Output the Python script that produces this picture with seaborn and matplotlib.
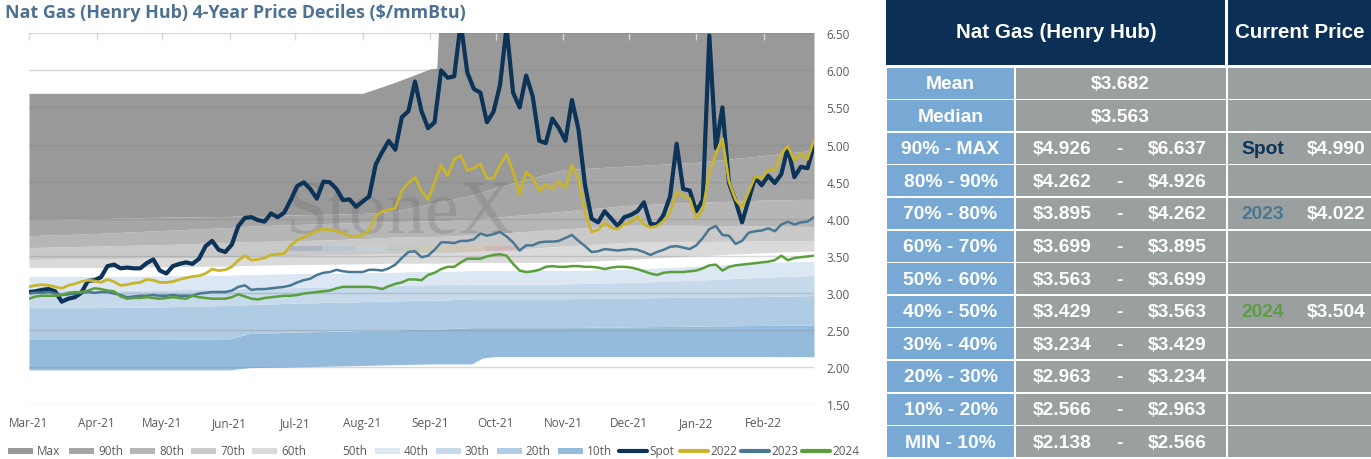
import numpy as np
import pandas as pd
import matplotlib
matplotlib.use("Agg")
import matplotlib.pyplot as plt
import matplotlib.dates as mdates
from matplotlib.patches import Rectangle
from matplotlib.lines import Line2D
import seaborn as sns

# ---------------- data ----------------
line_start = "2021-03-01"
line_step = "3D"
spot = [3.01,3.02,3.04,3.05,3.02,2.88,2.92,2.94,3.00,3.16,
        3.17,3.21,3.36,3.38,3.33,3.34,3.33,3.33,3.40,3.45,
        3.30,3.26,3.36,3.39,3.41,3.39,3.46,3.63,3.70,3.58,
        3.55,3.65,3.90,4.01,4.02,3.98,3.96,4.07,4.02,4.08,
        4.25,4.44,4.49,4.40,4.27,4.50,4.49,4.40,4.25,4.26,
        4.16,4.23,4.30,4.73,4.90,5.05,4.93,5.37,5.45,5.85,
        5.45,5.22,5.30,6.00,5.90,5.92,6.64,5.97,5.75,5.70,
        5.30,5.44,5.80,6.58,5.70,5.50,5.93,5.65,5.05,5.02,
        5.35,5.22,5.05,5.60,5.20,4.45,4.00,3.95,4.10,4.00,
        3.90,4.02,4.05,4.10,4.22,3.93,3.92,4.05,4.30,5.01,
        4.40,4.38,4.10,4.25,6.47,4.95,5.50,4.48,4.24,3.95,
        4.25,4.55,4.45,4.58,4.48,4.60,4.96,4.56,4.70,4.68,
        4.99]
y2022 = [3.08,3.10,3.11,3.10,3.08,3.06,3.10,3.12,3.15,3.17,
         3.16,3.14,3.18,3.15,3.10,3.11,3.13,3.14,3.18,3.17,
         3.14,3.14,3.15,3.18,3.20,3.22,3.23,3.26,3.32,3.30,
         3.31,3.35,3.44,3.50,3.44,3.45,3.47,3.51,3.52,3.53,
         3.64,3.71,3.75,3.79,3.83,3.86,3.85,3.83,3.81,3.76,
         3.76,3.78,3.84,4.03,4.10,4.12,4.14,4.38,4.48,4.56,
         4.37,4.26,4.49,4.72,4.58,4.80,4.85,4.65,4.68,4.74,
         4.54,4.55,4.72,4.87,4.63,4.33,4.63,4.55,4.37,4.46,
         4.40,4.50,4.42,4.72,4.54,4.08,3.82,3.85,3.94,3.88,
         3.86,3.93,3.95,4.03,3.92,3.88,3.90,3.97,4.08,4.36,
         4.31,4.27,4.00,4.12,4.62,4.88,5.08,4.50,4.26,4.15,
         4.36,4.57,4.54,4.66,4.65,4.88,4.98,4.78,4.88,4.80,
         5.06]
y2023 = [2.99,3.00,3.00,3.01,2.99,2.97,2.98,2.99,3.00,3.01,
         3.00,3.01,3.01,2.99,2.97,2.94,2.95,2.96,2.96,2.97,
         2.96,2.96,2.97,2.96,2.96,2.96,2.99,3.00,3.01,3.01,
         3.01,3.03,3.08,3.10,3.04,3.05,3.05,3.06,3.07,3.08,
         3.10,3.14,3.17,3.19,3.24,3.27,3.28,3.31,3.29,3.28,
         3.28,3.28,3.31,3.31,3.30,3.33,3.38,3.47,3.55,3.56,
         3.48,3.50,3.58,3.68,3.68,3.67,3.70,3.70,3.72,3.80,
         3.77,3.79,3.82,3.76,3.68,3.57,3.64,3.64,3.68,3.69,
         3.69,3.70,3.74,3.78,3.70,3.63,3.55,3.56,3.59,3.58,
         3.57,3.58,3.59,3.58,3.55,3.51,3.55,3.58,3.62,3.63,
         3.61,3.59,3.64,3.74,3.86,3.90,3.78,3.77,3.66,3.70,
         3.81,3.83,3.84,3.87,3.83,3.92,3.96,3.92,3.95,3.96,
         4.02]
y2024 = [2.92,2.95,2.96,2.96,2.96,2.97,3.00,3.01,3.01,3.03,
         3.06,3.05,3.03,3.02,2.95,2.92,2.93,2.93,2.94,2.93,
         2.92,2.93,2.94,2.93,2.92,2.96,2.94,2.93,2.92,2.92,
         2.92,2.94,2.98,2.95,2.92,2.91,2.93,2.94,2.95,2.96,
         2.96,2.97,2.99,3.00,3.01,3.02,3.03,3.06,3.08,3.08,
         3.08,3.08,3.08,3.07,3.05,3.09,3.12,3.14,3.18,3.18,
         3.17,3.24,3.27,3.32,3.35,3.35,3.41,3.46,3.46,3.46,
         3.49,3.51,3.52,3.50,3.39,3.30,3.28,3.29,3.31,3.35,
         3.36,3.35,3.35,3.36,3.36,3.35,3.35,3.34,3.32,3.34,
         3.35,3.35,3.34,3.32,3.29,3.26,3.24,3.27,3.28,3.28,
         3.28,3.29,3.30,3.33,3.37,3.38,3.30,3.35,3.37,3.38,
         3.39,3.40,3.41,3.42,3.44,3.50,3.44,3.47,3.48,3.49,
         3.50]
series_names = ["Spot", "2022", "2023", "2024"]

band_dates = ["2021-03-01","2021-04-01","2021-05-01","2021-06-01","2021-06-10",
              "2021-07-01","2021-08-01","2021-08-15","2021-09-01","2021-09-04",
              "2021-09-05","2021-09-20","2021-09-25","2021-10-01","2021-11-01",
              "2021-12-01","2022-01-01","2022-02-01","2022-02-24"]
d_min = [1.96,1.96,1.96,1.96,1.99,2.00,2.02,2.03,2.04,2.04,2.04,2.04,2.12,2.14,2.14,2.14,2.14,2.14,2.138]
d_p10 = [2.37,2.37,2.37,2.38,2.45,2.47,2.49,2.50,2.51,2.51,2.51,2.53,2.53,2.53,2.53,2.54,2.55,2.56,2.566]
d_p20 = [2.80,2.80,2.81,2.83,2.84,2.86,2.88,2.89,2.90,2.90,2.90,2.92,2.92,2.92,2.92,2.93,2.94,2.95,2.963]
d_p30 = [3.03,3.03,3.04,3.05,3.06,3.07,3.09,3.10,3.11,3.11,3.11,3.12,3.12,3.12,3.12,3.14,3.17,3.21,3.234]
d_p40 = [3.22,3.22,3.23,3.24,3.25,3.26,3.27,3.28,3.29,3.29,3.29,3.30,3.30,3.30,3.30,3.32,3.36,3.41,3.429]
d_p50 = [3.34,3.34,3.35,3.36,3.37,3.38,3.39,3.40,3.40,3.40,3.40,3.41,3.41,3.41,3.41,3.45,3.50,3.54,3.563]
d_p60 = [3.45,3.46,3.47,3.48,3.49,3.50,3.52,3.53,3.54,3.54,3.54,3.55,3.56,3.57,3.63,3.68,3.69,3.70,3.699]
d_p70 = [3.61,3.63,3.65,3.68,3.69,3.70,3.73,3.75,3.76,3.76,3.76,3.78,3.79,3.80,3.86,3.91,3.91,3.90,3.895]
d_p80 = [3.77,3.80,3.84,3.88,3.90,3.92,3.95,3.96,3.97,3.97,3.97,3.99,4.00,4.02,4.10,4.18,4.22,4.25,4.262]
d_p90 = [3.99,4.00,4.02,4.03,4.04,4.05,4.07,4.10,4.20,4.22,4.22,4.32,4.36,4.42,4.66,4.71,4.76,4.85,4.926]
d_max = [5.69,5.69,5.69,5.69,5.69,5.69,5.69,5.83,6.02,6.03,6.637,6.637,6.637,6.637,6.637,6.637,6.637,6.637,6.637]
band_names = ["10th", "20th", "30th", "40th", "50th", "60th", "70th", "80th", "90th", "Max"]

y_ticks = [1.5, 2.0, 2.5, 3.0, 3.5, 4.0, 4.5, 5.0, 5.5, 6.0, 6.5]

title = "Nat Gas (Henry Hub) 4-Year Price Deciles ($/mmBtu)"

tbl_header = ["Nat Gas (Henry Hub)", "Current Price"]
stat_labels = ["Mean", "Median"]
stat_values = [3.682, 3.563]
range_labels = ["90% - MAX", "80% - 90%", "70% - 80%", "60% - 70%", "50% - 60%",
                "40% - 50%", "30% - 40%", "20% - 30%", "10% - 20%", "MIN - 10%"]
range_low = [4.926, 4.262, 3.895, 3.699, 3.563, 3.429, 3.234, 2.963, 2.566, 2.138]
range_high = [6.637, 4.926, 4.262, 3.895, 3.699, 3.563, 3.429, 3.234, 2.963, 2.566]
current_row = ["90% - MAX", "70% - 80%", "40% - 50%"]
current_name = ["Spot", "2023", "2024"]
current_value = [4.990, 4.022, 3.504]

# ---------------- styles ----------------
band_colors = ["#95bbdc", "#b0cce5", "#c6daec", "#dbe7f3", "#ffffff",
               "#dadada", "#c9c9c9", "#b6b6b6", "#a6a6a6", "#999999"]
line_colors = ["#0c3358", "#c9b52c", "#4a7793", "#5b9f3c"]
line_widths = [3.0, 2.0, 1.8, 1.8]
navy = "#0c2f55"
lbl_blue = "#77a9d4"
cell_gray = "#9aa09f"
txt_gray = "#595959"

sns.set_theme(style="white")
plt.rcParams["font.family"] = ["Open Sans", "DejaVu Sans"]

W, H = 1371, 460
fig = plt.figure(figsize=(W / 100, H / 100), dpi=100)
fig.patch.set_facecolor("white")

ax_left, ax_right, ax_top, ax_bot = 29, 814, 34.3, 405
ax = fig.add_axes([ax_left / W, (H - ax_bot) / H, (ax_right - ax_left) / W, (ax_bot - ax_top) / H])

bd = pd.to_datetime(band_dates)
bounds = [d_min, d_p10, d_p20, d_p30, d_p40, d_p50, d_p60, d_p70, d_p80, d_p90, d_max]
for k in range(10):
    ax.fill_between(bd, bounds[k], bounds[k + 1], color=band_colors[k], lw=0, zorder=1)

ld = pd.date_range(line_start, periods=len(spot), freq=line_step)
df = pd.DataFrame({"date": ld, "Spot": spot, "2022": y2022, "2023": y2023, "2024": y2024})
for i, name in enumerate(series_names):
    sns.lineplot(data=df, x="date", y=name, ax=ax, color=line_colors[i], lw=line_widths[i],
                 zorder=2 + 0.1 * i, legend=False, solid_joinstyle="round")

# watermark
ax.text(0.473, 0.515, "StoneX", transform=ax.transAxes, ha="center", va="center",
        fontsize=55, family="Liberation Serif", color="#6a6a6a", alpha=0.26, zorder=1.6)
strip_cols = ["#8f9db4", "#aebfd2", "#c6d2dc", "#b6c8b6", "#d6cea4", "#d9c59c", "#d3a3a3"]
for j, c in enumerate(strip_cols):
    ax.add_patch(Rectangle((0.332 + j * 0.0415, 0.412), 0.0415, 0.014, transform=ax.transAxes,
                           color=c, alpha=0.45, lw=0, zorder=1.6))

ax.set_xlim(pd.Timestamp(line_start), pd.Timestamp(band_dates[-1]))
ax.set_ylim(y_ticks[0], y_ticks[-1])
ax.set_yticks(y_ticks)
ax.yaxis.set_major_formatter(matplotlib.ticker.FormatStrFormatter("%.2f"))
ax.yaxis.tick_right()
ax.tick_params(axis="y", length=0, pad=9, labelsize=8.5, labelcolor=txt_gray)
ax.xaxis.set_major_locator(mdates.MonthLocator())
ax.xaxis.set_major_formatter(mdates.DateFormatter("%b-%y"))
ax.tick_params(axis="x", which="major", top=True, bottom=False, labelbottom=True, labeltop=False,
               direction="in", length=5, width=1, color="#d9d9d9", pad=9,
               labelsize=8.5, labelcolor=txt_gray)
ax.set_xlabel("")
ax.set_ylabel("")
for s in ax.spines.values():
    s.set_visible(False)
ax.grid(axis="y", color="#808080", alpha=0.3, lw=1)
ax.grid(axis="x", visible=False)
ax.set_axisbelow("line")
ax.set_facecolor("white")

fig.text(5 / W, (H - 13) / H, title, ha="left", va="center", fontsize=12.9,
         fontweight="bold", color="#4d7192")

# legend (manual, evenly spaced like the original)
leg_names = band_names[::-1] + series_names
leg_y = 452
for k, name in enumerate(leg_names):
    sx = 8 + 61.1 * k
    if k < 10:
        col = band_colors[::-1][k]
        fig.patches.append(Rectangle((sx / W, (H - leg_y - 3) / H), 25 / W, 6 / H,
                                     transform=fig.transFigure, color=col, lw=0))
        tx = sx + 29
    else:
        j = k - 10
        fig.lines.append(Line2D([sx / W, (sx + 28) / W], [(H - leg_y) / H] * 2,
                                transform=fig.transFigure, color=line_colors[j], lw=3))
        tx = sx + 30
    fig.text(tx / W, (H - leg_y) / H, name, ha="left", va="center", fontsize=8.5, color=txt_gray)

# ---------------- table ----------------
tx0 = 880
ta = fig.add_axes([tx0 / W, 0, (W - tx0) / W, 1])
ta.set_xlim(tx0, W)
ta.set_ylim(H, 0)
ta.axis("off")
fnt = dict(family=["Liberation Sans", "DejaVu Sans"], fontweight="bold", fontsize=13.9)
hfnt = dict(fnt, fontsize=14.8)

ta.add_patch(Rectangle((886, 0), 339, 66, color=navy, lw=0))
ta.add_patch(Rectangle((1228, 0), 143, 66, color=navy, lw=0))
ta.text(1056, 33, tbl_header[0], ha="center", va="center", color="white", **hfnt)
ta.text(1300, 33, tbl_header[1], ha="center", va="center", color="white", **hfnt)

row_top, row_h, gap = 68.5, 32.6, 1.6
cols = [(887, 127), (1015.6, 210.4), (1227.6, 143.4)]
all_labels = stat_labels + range_labels
for r, lab in enumerate(all_labels):
    y0 = row_top + r * row_h
    for (cx, cw), colr in zip(cols, [lbl_blue, cell_gray, cell_gray]):
        ta.add_patch(Rectangle((cx, y0), cw, row_h - gap, color=colr, lw=0))
    yc = y0 + (row_h - gap) / 2 + 0.5
    ta.text(950.5, yc, lab, ha="center", va="center", color="white", **fnt)
    if r < len(stat_labels):
        ta.text(1120, yc, f"${stat_values[r]:.3f}", ha="center", va="center", color="white", **fnt)
    else:
        q = r - len(stat_labels)
        ta.text(1062, yc, f"${range_low[q]:.3f}", ha="center", va="center", color="white", **fnt)
        ta.text(1119, yc, "-", ha="center", va="center", color="white", **fnt)
        ta.text(1177, yc, f"${range_high[q]:.3f}", ha="center", va="center", color="white", **fnt)
    if lab in current_row:
        j = current_row.index(lab)
        ta.text(1263, yc, current_name[j], ha="center", va="center",
                color=line_colors[j if j == 0 else j + 1], **fnt)
        ta.text(1336, yc, f"${current_value[j]:.3f}", ha="center", va="center", color="white", **fnt)

fig.savefig("out.png", dpi=100, facecolor="white")
